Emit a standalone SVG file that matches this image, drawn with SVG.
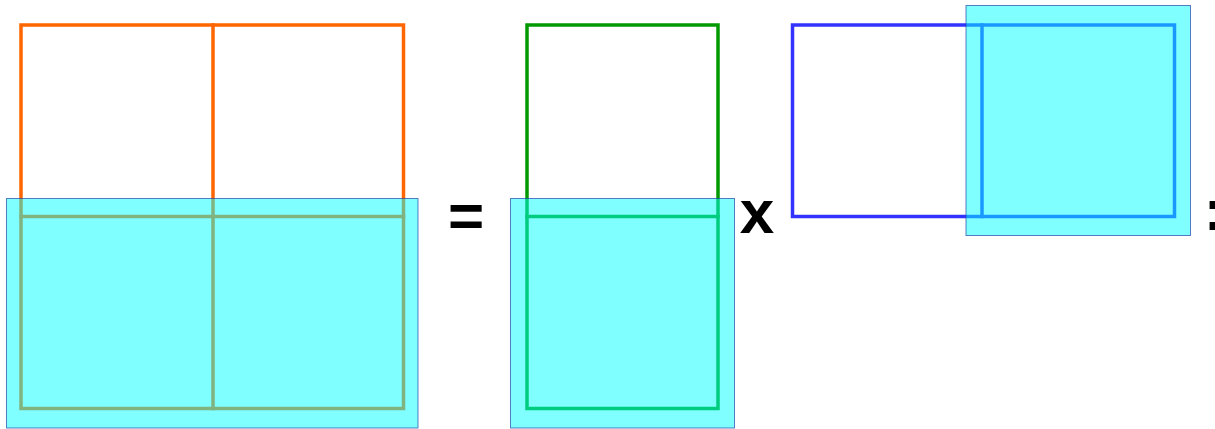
<svg xmlns="http://www.w3.org/2000/svg" width="1215" height="429" viewBox="0 0 1215 429">
<style>
.grid{fill:none;stroke-width:3.5;stroke-linecap:square}
.o{stroke:#ff6600}
.g{stroke:#009900}
.b{stroke:#3333ff}
.hl{fill:#00ffff;fill-opacity:0.5;stroke:#2244aa;stroke-opacity:0.7;stroke-width:1}
.op{font-family:"Liberation Sans",Arial,sans-serif;font-weight:bold;fill:#000}
</style>
<g id="matrixA">
<rect class="grid o" x="21" y="25" width="382.5" height="383.5"/>
<line class="grid o" x1="213" y1="25" x2="213" y2="408.5"/>
<line class="grid o" x1="21" y1="216.5" x2="403.5" y2="216.5"/>
<rect class="hl" x="6.5" y="198.5" width="411.5" height="229.5"/>
</g>
<g id="matrixB">
<rect class="grid g" x="527" y="25" width="191" height="383.5"/>
<line class="grid g" x1="527" y1="216.5" x2="718" y2="216.5"/>
<rect class="hl" x="510.5" y="198.5" width="224" height="229.5"/>
</g>
<g id="matrixC">
<rect class="grid b" x="792.5" y="25" width="382" height="191.5"/>
<line class="grid b" x1="982" y1="25" x2="982" y2="216.5"/>
<rect class="hl" x="966" y="5.5" width="224.5" height="230"/>
</g>
<g id="operators">
<text class="op" x="466" y="237" font-size="62" text-anchor="middle">=</text>
<text class="op" x="757" y="233" font-size="62" text-anchor="middle">x</text>
<text class="op" x="1204" y="229.5" font-size="58">:</text>
</g>
<g id="connectors"></g>
</svg>
